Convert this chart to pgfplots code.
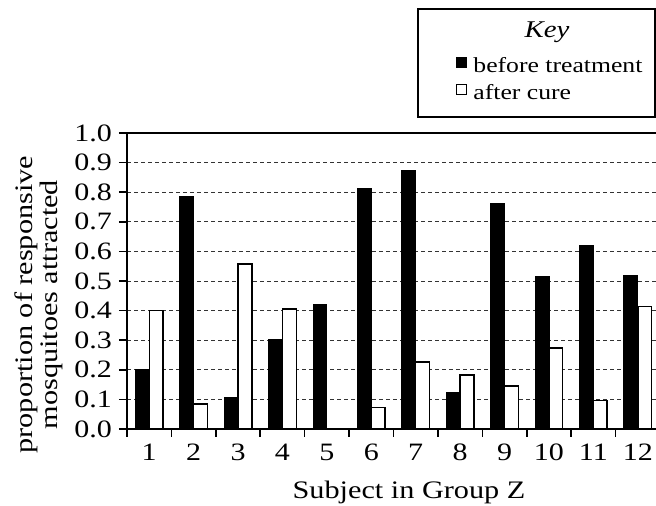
\documentclass[border=0pt]{standalone}
\usepackage{pgfplots}
\pgfplotsset{compat=1.18}
\usepackage{fontspec}
\setmainfont{Liberation Serif}[FakeStretch=1.2]
\begin{document}
\begin{tikzpicture}
\begin{axis}[
  at={(0,0)}, anchor=south west,
  scale only axis, width=264.5pt, height=148pt,
  xmin=0.5, xmax=12.41, ymin=0, ymax=1,
  axis x line*=bottom, axis y line*=left,
  axis line style={-, line width=0.8pt},
  clip=false,
  ybar, bar width=0.31,
  xtick={1,...,12},
  major x tick style={draw=none},
  minor xtick={0.5,1.5,...,11.5},
  minor x tick style={black, line width=0.8pt},
  minor tick length=4pt,
  ytick={0,0.1,...,1.0},
  major y tick style={black, line width=0.8pt},
  major tick length=4pt,
  tick align=outside,
  /pgf/number format/assume math mode=true,
  tick label style={font=\fontsize{12.5}{14}\selectfont},
  yticklabel style={/pgf/number format/fixed,/pgf/number format/fixed zerofill,/pgf/number format/precision=1},
  ymajorgrids,
  major grid style={dash pattern=on 2pt off 1.5pt, black!80, line width=0.4pt},
  xlabel={Subject in Group Z},
  xlabel style={at={(axis description cs:0.533,-0.216)}, anchor=center, font=\fontsize{12.6}{14}\selectfont},
  ylabel={proportion of responsive\\mosquitoes attracted},
  ylabel style={at={(axis description cs:-0.166,0.42)}, anchor=center, rotate=0, align=center, font=\fontsize{12.6}{12.6}\selectfont},
  legend style={draw=none, fill=none, at={(axis description cs:0.622,1.27)}, anchor=north west,
    font=\fontsize{10.7}{12}\selectfont, inner sep=0pt, row sep=0.5pt, cells={anchor=west}},
]
\addplot[fill=black, draw=black, line width=0.6pt, bar shift=-0.155,
  legend image code/.code={\draw[fill=black,draw=black,line width=0.5pt] (0pt,-0.3pt) rectangle (5pt,4.5pt);}]
  coordinates {(1,0.20) (2,0.784) (3,0.107) (4,0.302) (5,0.421) (6,0.811) (7,0.874) (8,0.124) (9,0.762) (10,0.516) (11,0.619) (12,0.518)};
\addlegendentry{\hspace{1pt}before treatment}
\addplot[fill=white, draw=black, line width=0.7pt, bar shift=0.155,
  legend image code/.code={\draw[fill=white,draw=black,line width=0.5pt] (0pt,-0.3pt) rectangle (5pt,4.5pt);}]
  coordinates {(1,0.40) (2,0.085) (3,0.557) (4,0.405) (6,0.073) (7,0.227) (8,0.182) (9,0.145) (10,0.274) (11,0.097) (12,0.414)};
\addlegendentry{\hspace{1pt}after cure}
\draw[line width=0.8pt] (axis description cs:0,1) -- (axis description cs:1,1);
\draw[line width=0.6pt] (axis description cs:0.5501,1.054) rectangle (axis description cs:0.998,1.419);
\node[font=\fontsize{12}{12}\selectfont\itshape] at (axis description cs:0.794,1.341) {Key};
\end{axis}
\pgfresetboundingbox
\path (-63.5pt,-38.5pt) rectangle (264.5pt,214.5pt);
\end{tikzpicture}
\end{document}
